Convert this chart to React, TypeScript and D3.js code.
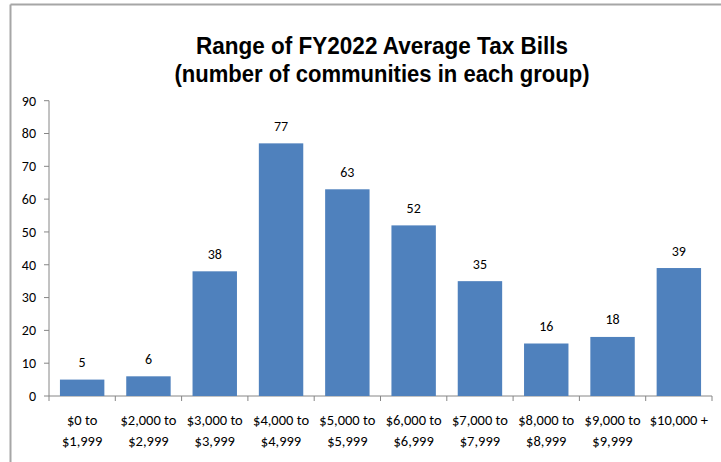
import React from "react";
import * as d3 from "d3";

const categoriesLine1 = ["$0 to", "$2,000 to", "$3,000 to", "$4,000 to", "$5,000 to", "$6,000 to", "$7,000 to", "$8,000 to", "$9,000 to", "$10,000 +"];
const categoriesLine2 = ["$1,999", "$2,999", "$3,999", "$4,999", "$5,999", "$6,999", "$7,999", "$8,999", "$9,999", ""];
const values = [5, 6, 38, 77, 63, 52, 35, 16, 18, 39];
const yTicks = [0, 10, 20, 30, 40, 50, 60, 70, 80, 90];
const titleLines = ["Range of FY2022 Average Tax Bills", "(number of communities in each group)"];
const titleWidths = [372, 415];

export default function App() {
  const W = 721, H = 462;
  const left = 49, right = 712, top = 100.7, bottom = 396;
  const ids = values.map((_, i) => String(i));
  const x = d3.scaleBand<string>().domain(ids).range([left, right]).paddingInner(0.33).paddingOuter(0.165);
  const xc = d3.scaleBand<string>().domain(ids).range([left, right]);
  const y = d3.scaleLinear().domain([0, 90]).range([bottom, top]);
  const font = "Calibri, Carlito, 'Open Sans', sans-serif";
  const axisColor = "#868686";
  return (
    <svg width={W} height={H} style={{ position: "absolute", left: 0, top: 0, background: "#fff" }}>
      <rect x={0} y={0} width={W} height={H} fill="#fff" />
      <line x1={10.5} y1={4.5} x2={W} y2={4.5} stroke="#a6a6a6" strokeWidth={2} />
      <line x1={10.5} y1={4.5} x2={10.5} y2={H} stroke="#a6a6a6" strokeWidth={2} />
      {titleLines.map((t, i) => (
        <text key={i} x={382} y={53.5 + i * 28.5} textAnchor="middle" fontFamily="'Liberation Sans Narrow', 'Arial Narrow', 'Liberation Sans', Arial, sans-serif" fontWeight="bold" fontSize={24} fill="#000" textLength={titleWidths[i]} lengthAdjust="spacingAndGlyphs">{t}</text>
      ))}
      <line x1={left} y1={top} x2={left} y2={bottom} stroke={axisColor} />
      {yTicks.map((t) => (
        <g key={t}>
          <line x1={left - 5} x2={left} y1={y(t)} y2={y(t)} stroke={axisColor} />
          <text x={36} y={y(t)} dy="0.35em" textAnchor="end" fontFamily={font} fontSize={14} fill="#000">{t}</text>
        </g>
      ))}
      <line x1={left} x2={right} y1={bottom} y2={bottom} stroke={axisColor} />
      {ids.concat(["end"]).map((id, i) => {
        const xx = i < ids.length ? (xc(id) as number) : right;
        return <line key={id} x1={xx} x2={xx} y1={bottom} y2={bottom + 5} stroke={axisColor} />;
      })}
      {values.map((v, i) => (
        <g key={i}>
          <rect x={x(ids[i])} y={y(v)} width={x.bandwidth()} height={bottom - y(v)} fill="#4f81bd" />
          <text x={(x(ids[i]) as number) + x.bandwidth() / 2} y={y(v) - 12.5} textAnchor="middle" fontFamily={font} fontSize={14} fill="#000">{v}</text>
          <text x={(xc(ids[i]) as number) + xc.bandwidth() / 2} y={425} textAnchor="middle" fontFamily={font} fontSize={14.5} fill="#000">{categoriesLine1[i]}</text>
          <text x={(xc(ids[i]) as number) + xc.bandwidth() / 2} y={446} textAnchor="middle" fontFamily={font} fontSize={14.5} fill="#000">{categoriesLine2[i]}</text>
        </g>
      ))}
    </svg>
  );
}
